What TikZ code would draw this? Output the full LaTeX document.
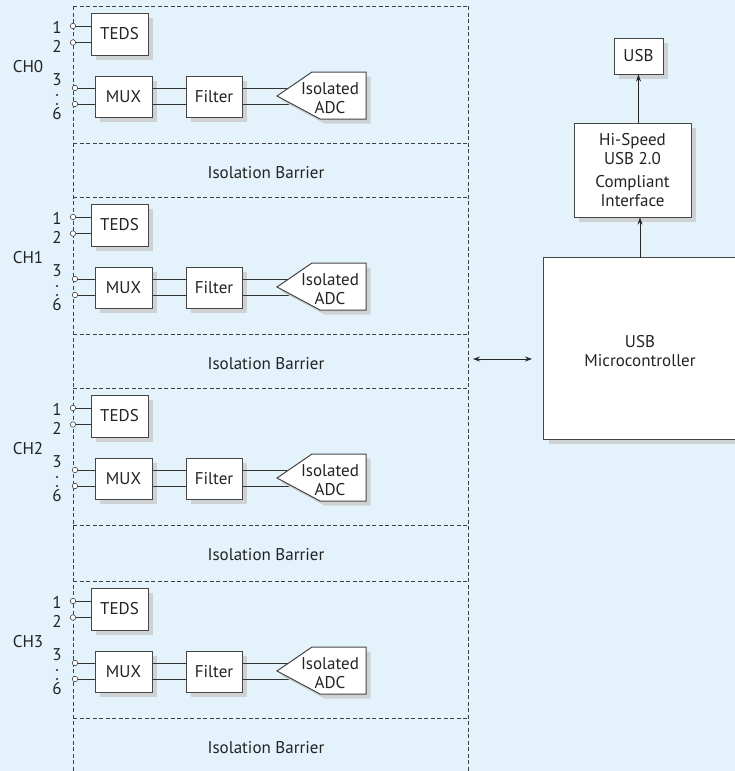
\documentclass[tikz,border=0pt]{standalone}
\usepackage{fontspec}
\setmainfont{PT Sans}
\usetikzlibrary{arrows.meta,shadows}
\definecolor{bgblue}{RGB}{228,243,251}
\definecolor{lincol}{RGB}{70,70,70}
\definecolor{shad}{RGB}{206,210,213}
\definecolor{txtcol}{RGB}{35,35,35}
\begin{document}
\begin{tikzpicture}[x=1pt,y=-1pt,
  font=\fontsize{17}{19}\selectfont, text=txtcol,
  blk/.style={draw=lincol, line width=1pt, fill=white, inner sep=0pt,
    drop shadow={shadow xshift=4.5pt, shadow yshift=-4.5pt, fill=shad, opacity=1}},
  border/.style={draw=lincol, line width=1pt},
  term/.style={circle, draw=lincol, fill=white, line width=0.6pt, minimum size=5.5pt, inner sep=0pt},
  wire/.style={draw=black!80, line width=0.9pt},
  barrier/.style={draw=black!75, line width=0.8pt, dash pattern=on 4pt off 2.5pt},
  arr/.style={draw=black!85, line width=0.8pt, -{Stealth[length=7pt,width=5pt]}},
  darr/.style={draw=black!85, line width=0.8pt, {Stealth[length=7pt,width=5pt]}-{Stealth[length=7pt,width=5pt]}},
  lbl/.style={inner sep=0pt},
  vdot/.style={circle, fill=txtcol, minimum size=2.2pt, inner sep=0pt},
]
\fill[bgblue] (0,0) rectangle (735,771);
\useasboundingbox (0,0) rectangle (735,771);

% vertical barrier lines
\draw[barrier] (73,6) -- (73,771);
\draw[barrier] (468,6) -- (468,771);

\foreach \k/\T in {0/6,1/197,2/388,3/581}{
  \draw[barrier] (73,\T) -- (468,\T);
  \draw[barrier] (73,\T+137) -- (468,\T+137);
  % labels
  \node[lbl] (ch\k) at (28,\T+61) {CH\k};
  \node[lbl] (n1\k) at (57,\T+21) {1};
  \node[lbl] (n2\k) at (57,\T+40) {2};
  \node[lbl] (n3\k) at (57,\T+74) {3};
  \node[vdot] (da\k) at (57,\T+89) {};
  \node[vdot] (db\k) at (57,\T+98) {};
  \node[lbl] (n6\k) at (57,\T+108) {6};
  % TEDS
  \node[blk, minimum width=57pt, minimum height=42pt] (teds\k) at (119.5,\T+28) {TEDS};
  \node[term] (t1\k) at (73,\T+20) {};
  \node[term] (t2\k) at (73,\T+36.5) {};
  \draw[wire] (t1\k) -- (t1\k -| teds\k.west);
  \draw[wire] (t2\k) -- (t2\k -| teds\k.west);
  % MUX and filter
  \node[blk, minimum width=57pt, minimum height=41pt] (mux\k) at (123.5,\T+90.5) {MUX};
  \node[blk, minimum width=56pt, minimum height=41pt] (filt\k) at (214,\T+90.5) {Filter};
  \node[term] (m1\k) at (75,\T+82) {};
  \node[term] (m2\k) at (75,\T+98) {};
  \draw[wire] (m1\k) -- (m1\k -| mux\k.west);
  \draw[wire] (m2\k) -- (m2\k -| mux\k.west);
  \draw[wire] (mux\k.east |- m1\k) -- (filt\k.west |- m1\k);
  \draw[wire] (mux\k.east |- m2\k) -- (filt\k.west |- m2\k);
  \coordinate (ae1\k) at (296,\T+82);
  \coordinate (ae2\k) at (296,\T+98);
  \draw[wire] (filt\k.east |- m1\k) -- (ae1\k);
  \draw[wire] (filt\k.east |- m2\k) -- (ae2\k);
  % ADC
  \draw[blk] (277,\T+90) -- (312,\T+66) -- (366,\T+66) -- (366,\T+113) -- (320,\T+113) -- cycle;
  \node[lbl, align=center] (adc\k) at (330,\T+92) {Isolated\\ADC};
  % barrier text
  \node[lbl] (ib\k) at (266,\T+167) {Isolation Barrier};
}

% right side
\node[blk, minimum width=49pt, minimum height=36pt] (usb) at (638.5,56) {USB};
\node[blk, minimum width=117pt, minimum height=94pt, align=center] (hs) at (632.5,170)
  {Hi-Speed\\USB 2.0\\[4pt]Compliant\\Interface};
\node[blk, draw=none, minimum width=196pt, minimum height=181pt] (micro) at (642,348.5) {};
\draw[border] (micro.north east) -- (micro.north west) -- (micro.south west) -- (micro.south east);
\node[lbl, align=center] (mtext) at (640,351) {USB\\Microcontroller};

\coordinate (ax) at (640,0);
\draw[arr] (hs.north -| usb.south) -- (usb.south);
\draw[arr] (micro.north -| ax) -- (hs.south -| ax);
\coordinate (dl) at (473,359);
\coordinate (dr) at (532,359);
\draw[darr] (dl) -- (dr);
\end{tikzpicture}
\end{document}
